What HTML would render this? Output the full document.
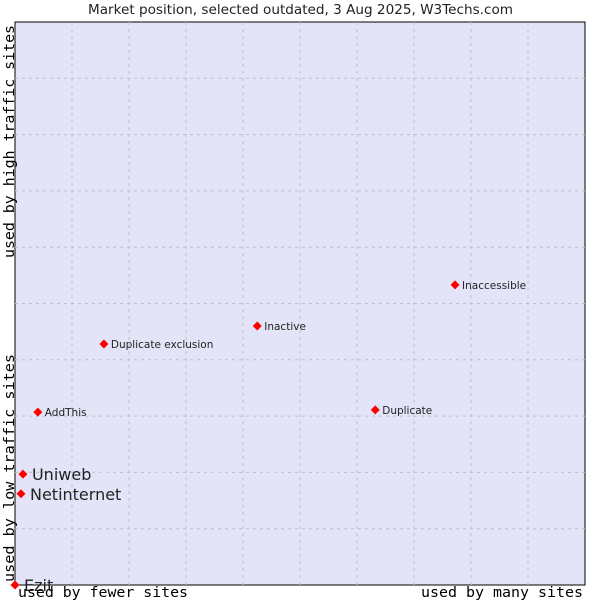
<!DOCTYPE html>
<html><head><meta charset="utf-8"><style>
body{margin:0;background:#fff}
svg{display:block}
</style></head><body>
<svg id="chart" width="600" height="600" xmlns="http://www.w3.org/2000/svg">
<text x="88" y="14" textLength="425" lengthAdjust="spacingAndGlyphs" font-family="DejaVu Sans, sans-serif" font-size="13" fill="#222">Market position, selected outdated, 3 Aug 2025, W3Techs.com</text>
<rect x="15" y="22" width="570" height="563" fill="#e3e4f8" stroke="#000" stroke-width="1"/>
<g id="grid"></g>
<g id="points"></g>
<text x="18" y="597" textLength="170" lengthAdjust="spacingAndGlyphs" font-family="DejaVu Sans Mono, monospace" font-size="14.5" fill="#000">used by fewer sites</text>
<text x="421" y="597" textLength="162" lengthAdjust="spacingAndGlyphs" font-family="DejaVu Sans Mono, monospace" font-size="14.5" fill="#000">used by many sites</text>
<text transform="translate(14,582) rotate(-90)" textLength="228" lengthAdjust="spacingAndGlyphs" font-family="DejaVu Sans Mono, monospace" font-size="14.5" fill="#000">used by low traffic sites</text>
<text transform="translate(14,258) rotate(-90)" textLength="233" lengthAdjust="spacingAndGlyphs" font-family="DejaVu Sans Mono, monospace" font-size="14.5" fill="#000">used by high traffic sites</text>
</svg>
<script>
const names=["Ezit","Netinternet","Uniweb","AddThis","Duplicate exclusion","Inactive","Duplicate","Inaccessible"];
const xValues=[0,1.05,1.4,4.0,15.6,42.5,63.2,77.2];
const yValues=[0,16.2,19.7,30.7,42.8,46.0,31.1,53.3];
const bigLabels=[true,true,true,false,false,false,false,false];
const NS="http://www.w3.org/2000/svg";
const L=15,T=22,W=570,H=563;
const sx=v=>L+v/100*W, sy=v=>T+H-v/100*H;
const grid=document.getElementById('grid');
for(let i=1;i<10;i++){
  const vx=document.createElementNS(NS,'line');
  
  
  vx.setAttribute('x1',sx(i*10));vx.setAttribute('x2',sx(i*10));vx.setAttribute('y1',T);vx.setAttribute('y2',T+H);
  vx.setAttribute('stroke','#c0c0c0');vx.setAttribute('stroke-dasharray','3,4');
  grid.appendChild(vx);
  const hy=document.createElementNS(NS,'line');
  
  
  hy.setAttribute('y1',sy(i*10));hy.setAttribute('y2',sy(i*10));hy.setAttribute('x1',L);hy.setAttribute('x2',L+W);
  hy.setAttribute('stroke','#c0c0c0');hy.setAttribute('stroke-dasharray','3,4');
  grid.appendChild(hy);
}
const pts=document.getElementById('points');
names.forEach((n,i)=>{
  const x=sx(xValues[i]),y=sy(yValues[i]);
  const p=document.createElementNS(NS,'polygon');
  
  
  p.setAttribute('points',`${x},${y-4.5} ${x+4.5},${y} ${x},${y+4.5} ${x-4.5},${y}`);
  p.setAttribute('fill','#f00');
  pts.appendChild(p);
  const t=document.createElementNS(NS,'text');
  
  
  t.setAttribute('x',x+(bigLabels[i]?9:7));
  t.setAttribute('y',y+(bigLabels[i]?6:4));
  t.setAttribute('font-family','DejaVu Sans, sans-serif');
  t.setAttribute('font-size',bigLabels[i]?'16':'10.5');
  t.setAttribute('fill','#222');
  t.textContent=n;
  pts.appendChild(t);
});
</script>
</body></html>
